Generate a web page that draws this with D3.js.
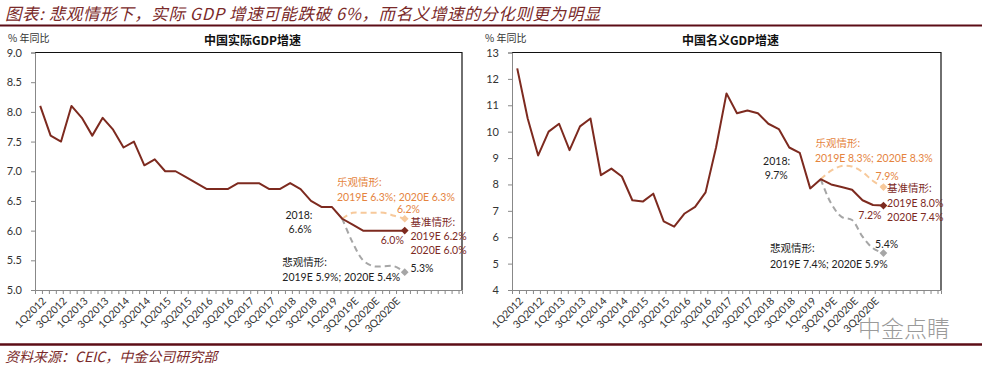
<!DOCTYPE html>
<html>
<head>
<meta charset="utf-8">
<script src="https://cdn.jsdelivr.net/npm/d3@7"></script>
<style>
  body { margin: 0; background: #fff; }
  svg { display: block; }
  text { font-family: Lato, "Noto Sans CJK SC", sans-serif; }
  .cjk { font-family: "Noto Sans CJK SC", sans-serif; }
</style>
</head>
<body>
<div id="chart"></div>
<script>
// quarters shown on the category axis (the axis keeps 5 more empty slots after 4Q2020E)
const quarters = [
  "1Q2012","2Q2012","3Q2012","4Q2012","1Q2013","2Q2013","3Q2013","4Q2013",
  "1Q2014","2Q2014","3Q2014","4Q2014","1Q2015","2Q2015","3Q2015","4Q2015",
  "1Q2016","2Q2016","3Q2016","4Q2016","1Q2017","2Q2017","3Q2017","4Q2017",
  "1Q2018","2Q2018","3Q2018","4Q2018","1Q2019","2Q2019E","3Q2019E","4Q2019E",
  "1Q2020E","2Q2020E","3Q2020E","4Q2020E"
]
const slotCount = 41
const scenarioStart = 29   // 2Q2019E, where the scenario lines branch off

// real GDP, actual + baseline
const realMain = [8.1,7.6,7.5,8.1,7.9,7.6,7.9,7.7,7.4,7.5,7.1,7.2,7.0,7.0,6.9,6.8,
  6.7,6.7,6.7,6.8,6.8,6.8,6.7,6.7,6.8,6.7,6.5,6.4,6.4,6.2,6.1,6.0,6.0,6.0,6.0,6.0]
const realOptimistic = [6.2,6.3,6.3,6.3,6.3,6.25,6.2]
const realPessimistic = [6.2,5.8,5.5,5.4,5.4,5.4,5.3]
const realTicks = [5.0,5.5,6.0,6.5,7.0,7.5,8.0,8.5,9.0]

// nominal GDP, actual + baseline
const nominalMain = [12.4,10.5,9.1,10.0,10.3,9.3,10.2,10.5,8.35,8.6,8.3,7.4,7.35,7.65,6.6,6.4,
  6.9,7.15,7.7,9.4,11.45,10.7,10.8,10.7,10.3,10.1,9.4,9.2,7.85,8.2,8.0,7.9,7.8,7.4,7.22,7.2]
const nominalOptimistic = [8.2,8.52,8.7,8.68,8.47,8.13,7.9]
const nominalPessimistic = [8.2,7.28,6.77,6.65,6.02,5.58,5.4]
const nominalTicks = [4,5,6,7,8,9,10,11,12,13]

// notes: [text, category index, value, kind]
const realNotes = [
  ["乐观情形:", 28.5, 6.82, "opt"],
  ["2019E 6.3%; 2020E 6.3%", 28.5, 6.56, "opt"],
  ["6.2%", 34.25, 6.36, "opt"],
  ["基准情形:", 35.55, 6.14, "base"],
  ["2019E 6.2%", 35.55, 5.90, "base"],
  ["2020E 6.0%", 35.55, 5.66, "base"],
  ["6.0%", 32.7, 5.83, "base"],
  ["2018:", 23.55, 6.26, "plain"],
  ["6.6%", 23.85, 6.03, "plain"],
  ["悲观情形:", 23.25, 5.46, "plain"],
  ["2019E 5.9%; 2020E 5.4%", 23.25, 5.21, "plain"],
  ["5.3%", 35.55, 5.36, "plain"]
]
const nominalNotes = [
  ["乐观情形:", 28.5, 9.55, "opt"],
  ["2019E 8.3%; 2020E 8.3%", 28.45, 8.99, "opt"],
  ["7.9%", 34.25, 8.29, "opt"],
  ["基准情形:", 35.35, 7.85, "base"],
  ["2019E 8.0%", 35.35, 7.28, "base"],
  ["2020E 7.4%", 35.35, 6.75, "base"],
  ["7.2%", 32.6, 6.84, "base"],
  ["2018:", 23.5, 8.86, "plain"],
  ["9.7%", 23.65, 8.33, "plain"],
  ["悲观情形:", 24.15, 5.58, "plain"],
  ["2019E 7.4%; 2020E 5.9%", 24.15, 4.97, "plain"],
  ["5.4%", 34.2, 5.74, "plain"]
]

const colors = {
  base: "#7d2a1f",
  opt: "#f7c99b",
  optText: "#e5843e",
  pess: "#a6a6a6",
  plain: "#222",
  rule: "#5c0d16",
  title: "#7a2a2a"
}

const width = 982
const height = 371

const svg = d3.select("#chart").append("svg")
  .attr("width", width)
  .attr("height", height)

// page title and rules
svg.append("text")
  .attr("class", "cjk")
  .attr("x", 5).attr("y", 19.5)
  .attr("font-size", 16.5)
  .attr("letter-spacing", 0.6)
  .attr("font-style", "italic")
  .attr("fill", colors.title)
  .text("图表: 悲观情形下，实际 GDP 增速可能跌破 6%，而名义增速的分化则更为明显")

svg.append("line")
  .attr("x1", 0).attr("x2", width).attr("y1", 25.5).attr("y2", 25.5)
  .attr("stroke", colors.rule).attr("stroke-width", 2)

svg.append("line")
  .attr("x1", 0).attr("x2", width).attr("y1", 344.5).attr("y2", 344.5)
  .attr("stroke", colors.rule).attr("stroke-width", 2.5)

svg.append("text")
  .attr("class", "cjk")
  .attr("x", 5).attr("y", 362)
  .attr("font-size", 14)
  .attr("font-style", "italic")
  .attr("fill", colors.title)
  .text("资料来源：CEIC，中金公司研究部")

svg.append("text")
  .attr("class", "cjk")
  .attr("x", 858).attr("y", 337)
  .attr("font-size", 23)
  .attr("font-weight", 300)
  .attr("fill", "#9a9a9a")
  .text("中金点睛")

function drawPanel(opts) {
  const { left, right, top, bottom, title, yTicks, yFmt, main, optimistic, pessimistic, notes } = opts

  const x = d3.scaleLinear().domain([-0.5, slotCount - 0.5]).range([left, right])
  const y = d3.scaleLinear().domain([yTicks[0], yTicks[yTicks.length - 1]]).range([bottom, top])

  const g = svg.append("g")

  g.append("text")
    .attr("class", "cjk")
    .attr("x", (left + right) / 2 + 4).attr("y", 45)
    .attr("text-anchor", "middle")
    .attr("font-size", 12)
    .attr("font-weight", "bold")
    .attr("fill", "#111")
    .text(title)

  g.append("text")
    .attr("class", "cjk")
    .attr("x", left - 27).attr("y", 42)
    .attr("font-size", 10)
    .attr("fill", "#333")
    .text("% 年同比")

  // frame: top and right edges
  g.append("path")
    .attr("d", `M${left},${top}H${right}V${bottom}`)
    .attr("fill", "none")
    .attr("stroke", "#111")
    .attr("stroke-width", 1.2)

  const yAxis = g.append("g")
    .attr("transform", `translate(${left},0)`)
    .call(d3.axisLeft(y).tickValues(yTicks).tickSize(4).tickPadding(9).tickFormat(d3.format(yFmt)))
  yAxis.selectAll("path, line").attr("stroke", "#888")
  yAxis.selectAll("text").attr("font-size", 11).attr("fill", "#333")
    .attr("font-family", "Lato, sans-serif")

  // date-like axis: a tick every two months
  const tickPos = d3.range(0, 62).map(k => -0.5 + k * 2 / 3).filter(v => v <= slotCount - 0.5 + 1e-6)
  const xAxis = g.append("g")
    .attr("transform", `translate(0,${bottom})`)
    .call(d3.axisBottom(x).tickValues(tickPos).tickSize(4).tickFormat(""))
  xAxis.selectAll("path, line").attr("stroke", "#888")

  g.append("g").selectAll("text")
    .data(quarters.filter((q, i) => i % 2 === 0))
    .join("text")
      .attr("transform", (d, k) => `translate(${x(k * 2) + 4},${bottom + 9}) rotate(-45)`)
      .attr("text-anchor", "end")
      .attr("dy", "0.35em")
      .attr("font-size", 10.5)
      .attr("fill", "#333")
      .text(d => d)

  const straight = d3.line().x((d, i) => x(i)).y(d => y(d))
  const smooth = d3.line()
    .x((d, i) => x(i + scenarioStart))
    .y(d => y(d))
    .curve(d3.curveCatmullRom.alpha(0.5))

  g.append("path")
    .datum(optimistic)
    .attr("d", smooth)
    .attr("fill", "none")
    .attr("stroke", colors.opt)
    .attr("stroke-width", 2)
    .attr("stroke-dasharray", "6,4")

  g.append("path")
    .datum(pessimistic)
    .attr("d", smooth)
    .attr("fill", "none")
    .attr("stroke", colors.pess)
    .attr("stroke-width", 2)
    .attr("stroke-dasharray", "6,4")

  g.append("path")
    .datum(main)
    .attr("d", straight)
    .attr("fill", "none")
    .attr("stroke", colors.base)
    .attr("stroke-width", 2)
    .attr("stroke-linejoin", "round")

  const ends = [
    { i: main.length - 1, v: main[main.length - 1], c: colors.base },
    { i: scenarioStart + optimistic.length - 1, v: optimistic[optimistic.length - 1], c: colors.opt },
    { i: scenarioStart + pessimistic.length - 1, v: pessimistic[pessimistic.length - 1], c: colors.pess }
  ]
  g.append("g").selectAll("path")
    .data(ends)
    .join("path")
      .attr("d", d3.symbol(d3.symbolSquare, 30))
      .attr("transform", d => `translate(${x(d.i)},${y(d.v)}) rotate(45)`)
      .attr("fill", d => d.c)

  g.append("g").selectAll("text")
    .data(notes)
    .join("text")
      .attr("x", d => x(d[1]))
      .attr("y", d => y(d[2]))
      .attr("dy", "0.35em")
      .attr("font-size", 10.5)
      .attr("fill", d => d[3] === "opt" ? colors.optText : d[3] === "base" ? colors.base : colors.plain)
      .text(d => d[0])
}

drawPanel({
  left: 35, right: 462, top: 52.5, bottom: 290,
  title: "中国实际GDP增速",
  yTicks: realTicks, yFmt: ".1f",
  main: realMain, optimistic: realOptimistic, pessimistic: realPessimistic,
  notes: realNotes
})

drawPanel({
  left: 512, right: 941, top: 52.5, bottom: 290,
  title: "中国名义GDP增速",
  yTicks: nominalTicks, yFmt: "d",
  main: nominalMain, optimistic: nominalOptimistic, pessimistic: nominalPessimistic,
  notes: nominalNotes
})
</script>
</body>
</html>
